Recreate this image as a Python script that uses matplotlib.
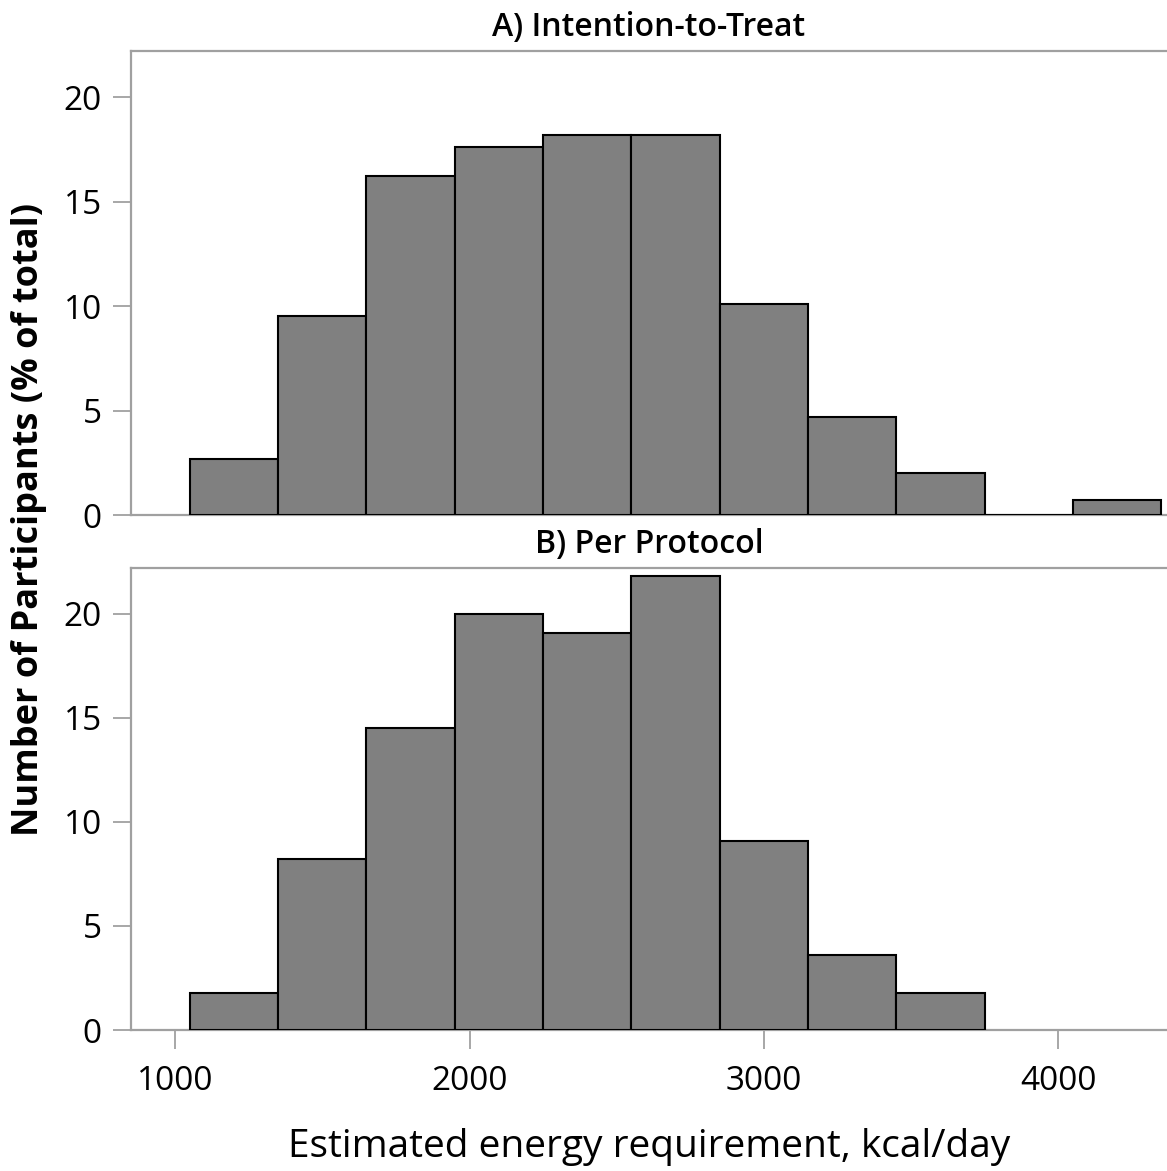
import matplotlib
matplotlib.use("Agg")
import matplotlib.pyplot as plt

plt.rcParams["font.family"] = ["Open Sans", "DejaVu Sans"]

# histogram bins (kcal/day), width 300
bin_left = [1050, 1350, 1650, 1950, 2250, 2550, 2850, 3150, 3450, 3750, 4050]
BIN_W = 300

# % of participants per bin
itt_pct = [2.7, 9.5, 16.2, 17.6, 18.2, 18.2, 10.1, 4.7, 2.0, 0.0, 0.7]
pp_pct = [1.8, 8.2, 14.5, 20.0, 19.1, 21.8, 9.1, 3.6, 1.8]

titles = ["A) Intention-to-Treat", "B) Per Protocol"]
y_ticks = [0, 5, 10, 15, 20]
x_ticks = [1000, 2000, 3000, 4000]

SPINE = "#a0a0a0"
FILL = "#808080"

fig = plt.figure(figsize=(11.67, 11.71), dpi=100)
ax_a = fig.add_axes([0.1123, 0.5602, 0.8877, 0.3962])
ax_b = fig.add_axes([0.1123, 0.1204, 0.8877, 0.3945])

for ax, vals, title in [(ax_a, itt_pct, titles[0]), (ax_b, pp_pct, titles[1])]:
    ax.bar(bin_left[:len(vals)], vals, width=BIN_W, align="edge",
           color=FILL, edgecolor="black", linewidth=1.5, zorder=3)
    ax.set_xlim(850, 4370)
    ax.set_ylim(0, 22.2)
    ax.set_yticks(y_ticks)
    ax.tick_params(axis="y", labelsize=24, length=13, width=1.3, color=SPINE, pad=8)
    for side in ["top", "left", "bottom"]:
        ax.spines[side].set_color(SPINE)
        ax.spines[side].set_linewidth(1.6)
    ax.spines["right"].set_visible(False)
    ax.set_title(title, fontsize=23, fontweight="semibold", pad=11)

ax_a.set_xticks([])
ax_b.set_xticks(x_ticks)
ax_b.tick_params(axis="x", labelsize=24, length=14, width=1.3, color=SPINE, pad=11)
ax_b.set_xlabel("Estimated energy requirement, kcal/day", fontsize=28,
                fontweight="medium", labelpad=22)

fig.text(0.025, 0.556, "Number of Participants (% of total)", rotation=90,
         ha="center", va="center", fontsize=26, fontweight="bold")

fig.savefig("out.png", dpi=100, facecolor="white")
